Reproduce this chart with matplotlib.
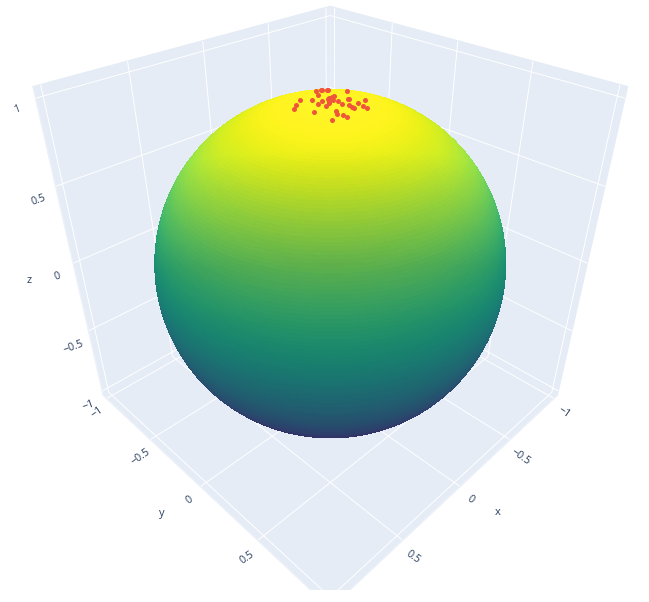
import numpy as np
import matplotlib
matplotlib.use("Agg")
import matplotlib.pyplot as plt
from matplotlib.patches import Rectangle
from matplotlib.transforms import IdentityTransform

plt.rcParams['font.family'] = ['Open Sans', 'DejaVu Sans']

TEXT = '#2a3f5f'
PANE = '#E5ECF6'
MARK = '#EF553B'

# sample points
pts_x = [-.129,-.146,-.155,-.169,-.173,-.249,-.043,.058,.033,.121,.163,.052,.016,.052,-.020,-.044,-.062,-.079,-.001,-.033,-.041,-.028,.011,-.108,-.110,-.052,-.043,-.045,-.110,-.112,-.179,-.112,.134,.054,.069,.059,.052,.125]
pts_y = [-.237,-.216,-.219,-.193,-.190,-.123,-.137,-.165,-.100,-.130,-.094,-.034,-.044,.018,-.040,-.050,-.050,-.050,-.011,-.013,.013,.055,.004,.019,.024,.082,.114,.126,.090,.125,.077,.151,.021,.093,.116,.145,.168,.138]
pts_z = [.964,.966,.964,.967,.967,.961,.990,.985,.994,.984,.982,.998,.999,.998,.999,.998,.997,.996,1.0,.999,.999,.998,1.0,.994,.994,.995,.993,.991,.990,.986,.981,.982,.990,.994,.991,.988,.985,.983]

tick_vals = [-1, -0.5, 0, 0.5, 1]
tick_text = ['\u22121', '\u22120.5', '0', '0.5', '1']

ELEV, AZIM = 33.6, 45
R = 0.978

fig = plt.figure(figsize=(6.49, 6.02), dpi=100)
W, H = 649, 602
L = 612
ax = fig.add_axes([16 / W, 26 / H, L / W, L / H], projection='3d')
ax.patch.set_alpha(0)
ax.set_box_aspect((1, 1, 1))
ax.set_proj_type('persp', focal_length=0.227)
ax.view_init(elev=ELEV, azim=AZIM)
ax.computed_zorder = False

ax.set_xlim(-1.04, 1.04, view_margin=0)
ax.set_ylim(-1.04, 1.04, view_margin=0)
ax.set_zlim(-1.04, 1.06, view_margin=0)

# sphere
u = np.linspace(0, 2 * np.pi, 241)
v = np.linspace(0, np.pi, 161)
X = np.outer(np.cos(u), np.sin(v))
Y = np.outer(np.sin(u), np.sin(v))
Z = np.outer(np.ones_like(u), np.cos(v))
t, p = np.radians(ELEV), np.radians(AZIM)
up = np.array([-np.sin(t) * np.cos(p), -np.sin(t) * np.sin(p), np.cos(t)])
cols = plt.cm.viridis((Z + 1) / 2)
nl = X * up[0] + Y * up[1] + Z * up[2]
lit = np.minimum(0.85 + np.where(nl > 0, 0.38, 0.1) * nl, 1.06)
cols[..., :3] = np.clip(cols[..., :3] * lit[..., None], 0, 1)
ax.plot_surface(R * X, R * Y, R * Z, facecolors=cols, rstride=1, cstride=1, linewidth=0,
                antialiased=False, shade=False, zorder=2)

ax.scatter(R * np.array(pts_x), R * np.array(pts_y), R * np.array(pts_z), s=13, c=MARK,
           depthshade=False, linewidths=0, zorder=3)

clip = Rectangle((0, 12), 649, 590, transform=IdentityTransform())
for axis, rot in ((ax.xaxis, -35), (ax.yaxis, 35), (ax.zaxis, 20)):
    axis.set_ticks(tick_vals)
    axis.set_ticklabels(tick_text, fontsize=7.7, color=TEXT, rotation=rot)
    axis.set_pane_color(PANE)
    axis.pane.set_edgecolor(PANE)
    axis._axinfo['grid'].update(color='white', linewidth=0.7)
    axis._axinfo['tick'].update(inward_factor=0, outward_factor=0)
    axis._axinfo['axisline']['color'] = '#EEF2F9'
    axis.line.set_color('#EEF2F9')
    axis.pane.set_clip_path(clip)
    axis.gridlines.set_clip_path(clip)
    axis.line.set_clip_path(clip)

# push labels away from each edge along the floor direction only
ax.xaxis._axmask = lambda: [False, True, False]
ax.yaxis._axmask = lambda: [True, False, False]
ax.zaxis._axmask = lambda: [True, False, False]

ax.grid(True)
ax.tick_params(axis='x', pad=0)
ax.tick_params(axis='y', pad=0)
ax.tick_params(axis='z', pad=3)
ax.zaxis.set_rotate_label(False)
ax.xaxis.set_rotate_label(False)
ax.yaxis.set_rotate_label(False)
ax.set_xlabel('x', fontsize=8, color=TEXT, labelpad=7)
ax.set_ylabel('y', fontsize=8, color=TEXT, labelpad=8)
ax.set_zlabel('z', fontsize=8, color=TEXT, labelpad=8)

fig.savefig('out.png', dpi=100)
